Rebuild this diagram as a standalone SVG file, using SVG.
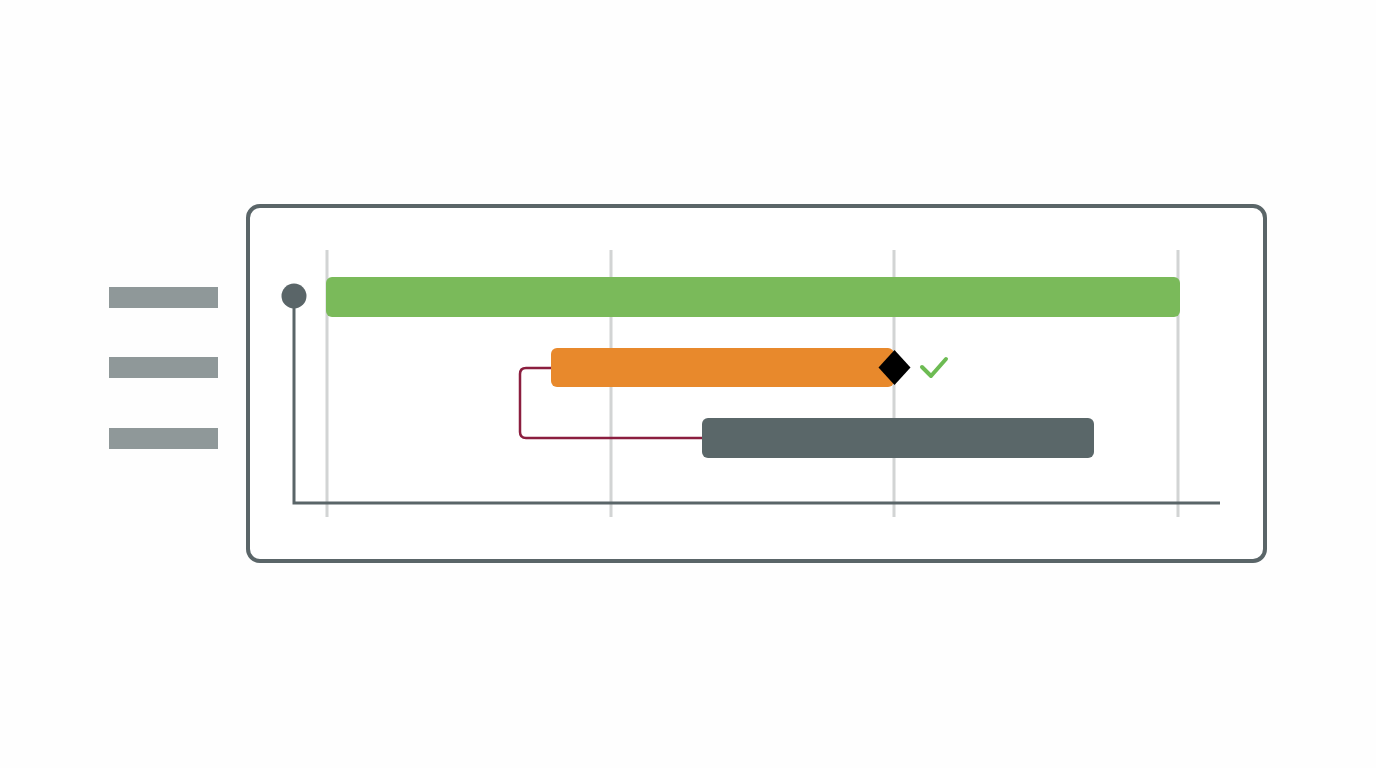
<svg xmlns="http://www.w3.org/2000/svg" width="1376" height="768" viewBox="0 0 1376 768">
<style>
.frame{fill:#ffffff;stroke:#5a6568;stroke-width:4}
.grid{stroke:#d2d4d4;stroke-width:3}
.label{fill:#8f9899}
.axis{fill:none;stroke:#5a6568;stroke-width:3}
.dep{fill:none;stroke:#8b1e3f;stroke-width:2.5;stroke-linejoin:round}
</style>
<rect width="1376" height="768" fill="#fefefe"/>
<g id="frame"><rect class="frame" x="248" y="206" width="1017" height="355" rx="12"/></g>
<g id="grid">
<line class="grid" x1="327" y1="250" x2="327" y2="517"/>
<line class="grid" x1="611" y1="250" x2="611" y2="517"/>
<line class="grid" x1="894" y1="250" x2="894" y2="517"/>
<line class="grid" x1="1178" y1="250" x2="1178" y2="517"/>
</g>
<g id="labels">
<rect class="label" x="109" y="287" width="109" height="21"/>
<rect class="label" x="109" y="357" width="109" height="21"/>
<rect class="label" x="109" y="428" width="109" height="21"/>
</g>
<g id="axis">
<path class="axis" d="M294 296 V503 H1220"/>
<circle cx="294" cy="296" r="12.5" fill="#5a6568"/>
</g>
<g id="connectors">
<path class="dep" d="M552 368 H526 Q520 368 520 374 V432 Q520 438 526 438 H704"/>
</g>
<g id="task1"><rect x="326" y="277" width="854" height="40" rx="6" fill="#7aba5a"/></g>
<g id="task2"><rect x="551" y="348" width="343" height="39" rx="6" fill="#e8892c"/></g>
<g id="task3"><rect x="702" y="418" width="392" height="40" rx="6" fill="#5a6769"/></g>
<g id="milestone"><polygon points="894.5,350 910.5,367.5 894.5,385 878.5,367.5" fill="#000000"/></g>
<g id="check"><polyline points="922,367 931,376 946,359" fill="none" stroke="#6dbb53" stroke-width="4" stroke-linecap="round" stroke-linejoin="round"/></g>
</svg>
